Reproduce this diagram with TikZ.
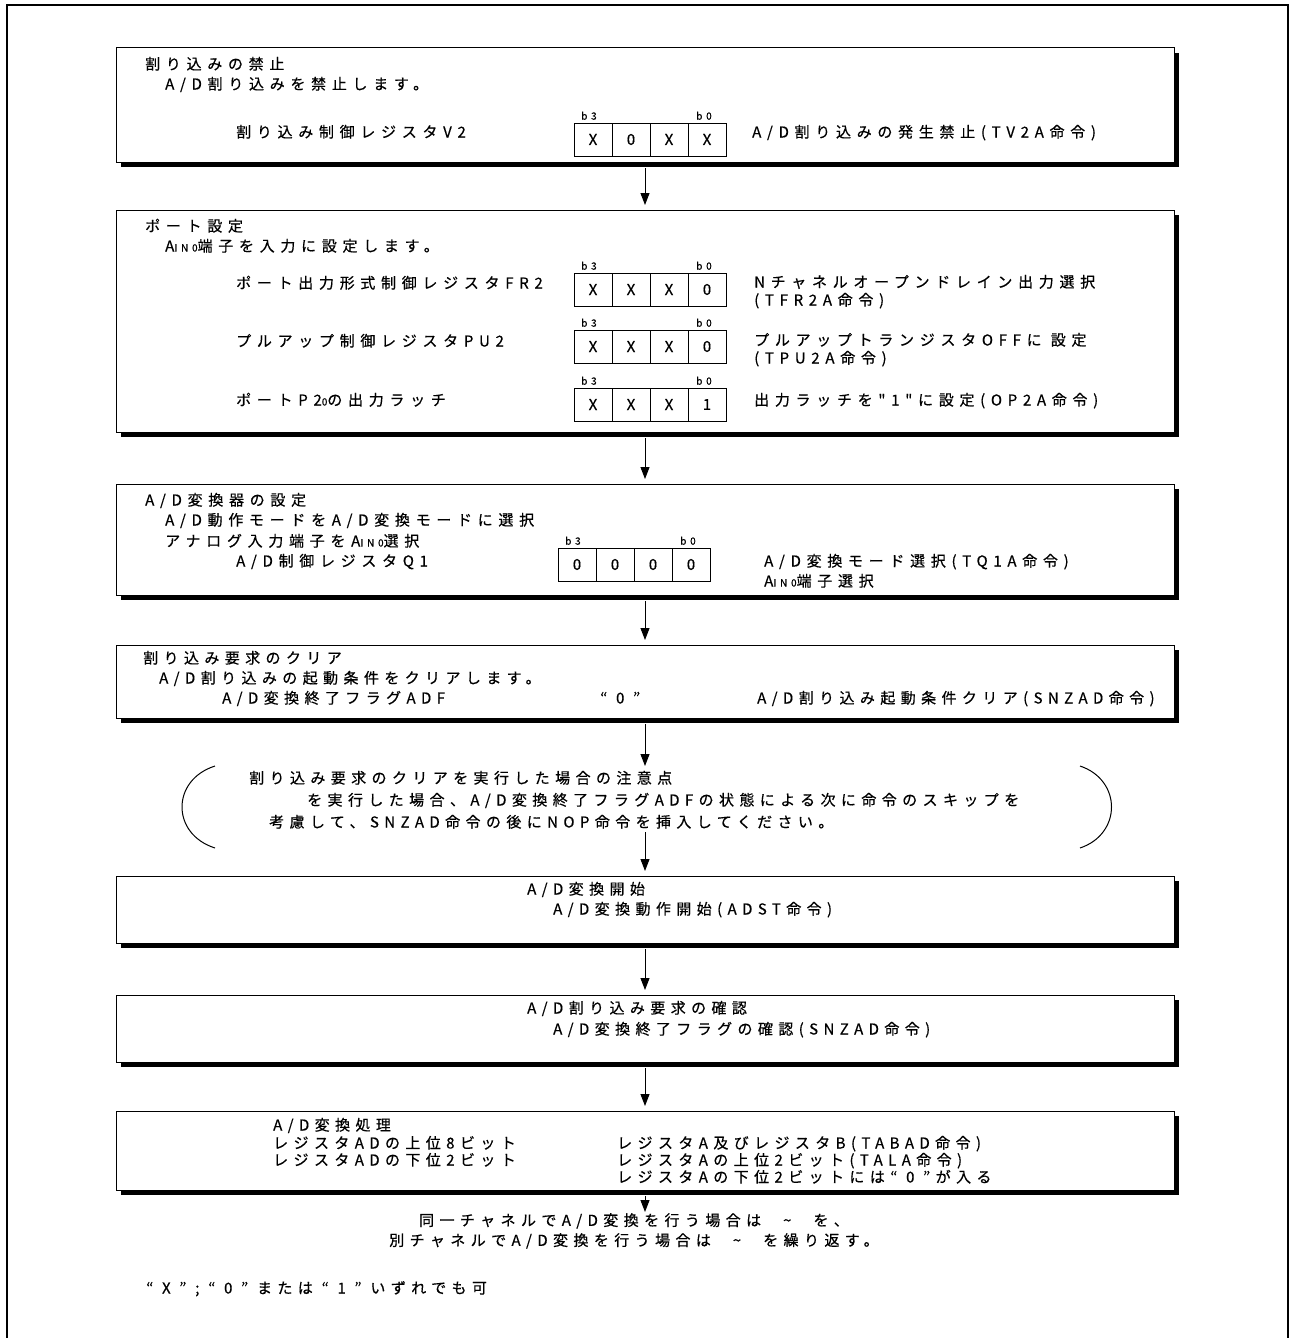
\documentclass[tikz,border=0pt]{standalone}
\usepackage{fontspec}
\usetikzlibrary{arrows.meta,shadows}
\newfontfamily\jpa[LetterSpace=38,FakeBold=0.5]{Noto Sans CJK JP}
\newfontfamily\jpb[LetterSpace=36,FakeBold=0.5]{Noto Sans CJK JP}
\newfontfamily\jpc[FakeBold=0.5]{Noto Sans CJK JP}
\newcommand\ainz{A{\fontsize{10}{11}\selectfont IN0}}
\newcommand\regcells[7]{%
 \node[cell, anchor=north west] (#1a) at (#2,#3) {#4};
 \node[cell, anchor=west] (#1b) at (#1a.east) {#5};
 \node[cell, anchor=west] (#1c) at (#1b.east) {#6};
 \node[cell, anchor=west] (#1d) at (#1c.east) {#7};
 \node[bitlbl] (#1hi) at ([xshift=7pt,yshift=3pt]#1a.north west) {b3};
 \node[bitlbl] (#1lo) at ([xshift=8pt,yshift=3pt]#1d.north west) {b0};
}
\tikzset{
 frame/.style={line width=1.4pt},
 box/.style={draw, line width=1pt, fill=white, inner sep=0pt, outer sep=0pt, anchor=north west, minimum width=1058pt,
   drop shadow={shadow xshift=5pt, shadow yshift=-5pt, opacity=1, fill=black}},
 tx/.style={anchor=west, inner sep=0pt, font=\jpa\fontsize{15}{17}\selectfont, text height=10pt, text depth=3pt},
 tb/.style={tx, font=\jpb\fontsize{15}{17}\selectfont},
 cell/.style={draw, line width=1pt, minimum width=38pt, minimum height=33pt, inner sep=0pt, outer sep=0pt, font=\jpc\fontsize{15}{17}\selectfont},
 bitlbl/.style={inner sep=0pt, font=\jpa\fontsize{10}{11}\selectfont, anchor=south west},
 arr/.style={line width=1pt, -{Triangle[length=12pt,width=9pt]}, shorten <=6pt, shorten >=5pt},
 paren/.style={line width=1pt},
}
\begin{document}
\begin{tikzpicture}[x=1pt,y=-1pt]
\useasboundingbox (0,0) rectangle (1292,1338);
\draw[frame] (7,1338) -- (7,5) -- (1288,5) -- (1288,1338);

% box 1
\node[box, minimum height=114pt] (b1) at (116,48) {};
\node[tx] (t11) at (145,66) {割り込みの禁止};
\node[tx] (t12) at (165,86) {A/D割り込みを禁止します。};
\node[tx] (t13) at (236,134) {割り込み制御レジスタV2};
\regcells{ra}{574}{123}{X}{0}{X}{X}
\node[tx] (t14) at (752,134) {A/D割り込みの発生禁止(TV2A命令)};

% box 2
\node[box, minimum height=222pt] (b2) at (116,210) {};
\node[tx] (t21) at (145,228) {ポート設定};
\node[tx] (t22) at (165,248) {\ainz 端子を入力に設定します。};
\node[tx] (t23) at (236,285) {ポート出力形式制御レジスタFR2};
\regcells{rb}{574}{273}{X}{X}{X}{0}
\node[tx] (t24) at (754,284) {Nチャネルオープンドレイン出力選択};
\node[tx] (t25) at (754,302) {(TFR2A命令)};
\node[tx] (t26) at (236,343) {プルアップ制御レジスタPU2};
\regcells{rc}{574}{330}{X}{X}{X}{0}
\node[tx] (t27) at (754,342) {プルアップトランジスタOFFに 設定};
\node[tx] (t28) at (754,360) {(TPU2A命令)};
\node[tx] (t29) at (236,402) {ポートP2{\fontsize{10}{11}\selectfont 0}の出力ラッチ};
\regcells{rd}{574}{388}{X}{X}{X}{1}
\node[tx] (t2a) at (754,402) {出力ラッチを"1"に設定(OP2A命令)};

% box 3
\node[box, minimum height=111pt] (b3) at (116,484) {};
\node[tx] (t31) at (145,502) {A/D変換器の設定};
\node[tx] (t32) at (165,522) {A/D動作モードをA/D変換モードに選択};
\node[tx] (t33) at (165,543) {アナログ入力端子を\ainz 選択};
\node[tx] (t34) at (236,563) {A/D制御レジスタQ1};
\regcells{re}{558}{548}{0}{0}{0}{0}
\node[tx] (t35) at (764,563) {A/D変換モード選択(TQ1A命令)};
\node[tx] (t36) at (764,583) {\ainz 端子選択};

% box 4
\node[box, minimum height=73pt] (b4) at (116,645) {};
\node[tb] (t41) at (143,660) {割り込み要求のクリア};
\node[tb] (t42) at (159,680) {A/D割り込みの起動条件をクリアします。};
\node[tb] (t43) at (222,700) {A/D変換終了フラグADF};
\node[tb] (t44) at (600,700) {“ 0 ”};
\node[tb] (t45) at (757,700) {A/D割り込み起動条件クリア(SNZAD命令)};

% note
\node[inner sep=0pt, outer sep=0pt, minimum width=927pt, minimum height=82pt, anchor=north west] (note) at (183,766) {};
\draw[paren] (215,766) .. controls (171,780) and (171,834) .. (215,848);
\draw[paren] (1080,766) .. controls (1122,780) and (1122,834) .. (1080,848);
\node[tb] (n1) at (249,780) {割り込み要求のクリアを実行した場合の注意点};
\node[tb] (n2) at (307,802) {を実行した場合、A/D変換終了フラグADFの状態による次に命令のスキップを};
\node[tb] (n3) at (269,824) {考慮して、SNZAD命令の後にNOP命令を挿入してください。};
\coordinate (c2) at (645,832);

% box 5
\node[box, minimum height=67pt] (b5) at (116,876) {};
\node[tb] (t51) at (527,891) {A/D変換開始};
\node[tb] (t52) at (553,911) {A/D変換動作開始(ADST命令)};

% box 6
\node[box, minimum height=67pt] (b6) at (116,995) {};
\node[tb] (t61) at (527,1010) {A/D割り込み要求の確認};
\node[tb] (t62) at (553,1031) {A/D変換終了フラグの確認(SNZAD命令)};

% box 7
\node[box, minimum height=79pt] (b7) at (116,1111) {};
\node[tb] (t71) at (273,1127) {A/D変換処理};
\node[tb] (t72) at (273,1145) {レジスタADの上位8ビット};
\node[tb] (t73) at (273,1162) {レジスタADの下位2ビット};
\node[tb] (t74) at (617,1145) {レジスタA及びレジスタB(TABAD命令)};
\node[tb] (t75) at (617,1162) {レジスタAの上位2ビット(TALA命令)};
\node[tb] (t76) at (617,1179) {レジスタAの下位2ビットには“ 0 ”が入る};

% footer
\node[inner sep=0pt, align=center, anchor=north, font=\jpb\fontsize{15}{20}\selectfont] (foot) at (634,1213)
  {同一チャネルでA/D変換を行う場合は\hspace{22pt}\textasciitilde\hspace{22pt}を、\\
   別チャネルでA/D変換を行う場合は\hspace{22pt}\textasciitilde\hspace{22pt}を繰り返す。};
\node[tb] (fn) at (146,1290) {“ X ” ; “ 0 ” または “ 1 ” いずれでも可};

% arrows
\draw[arr] (b1) -- (b2);
\draw[arr] (b2) -- (b3);
\draw[arr] (b3) -- (b4);
\draw[arr, shorten >=0pt] (b4.south) -- (b4.south |- note.north);
\draw[arr, shorten <=0pt] (c2) -- (b5);
\draw[arr] (b5) -- (b6);
\draw[arr] (b6) -- (b7);
\draw[arr, shorten >=1pt] (b7.south) -- (b7.south |- foot.north);
\end{tikzpicture}
\end{document}
